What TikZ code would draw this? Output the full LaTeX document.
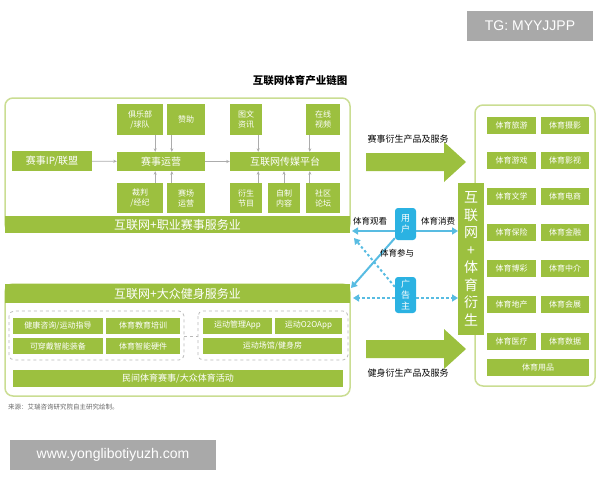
\documentclass[tikz,border=0pt]{standalone}
\usepackage{fontspec}
\setmainfont{Noto Sans CJK SC}
\newfontfamily\wmfont{Liberation Sans}
\usetikzlibrary{arrows.meta}

\definecolor{grn}{HTML}{9CC03F}
\definecolor{lgrn}{HTML}{CADD92}
\definecolor{cyn}{HTML}{2BB2E2}
\definecolor{lcyn}{HTML}{58BCE2}
\definecolor{wmgray}{HTML}{A9A9A9}

\tikzset{
  gbox/.style={fill=grn, text=white, inner sep=0pt, align=center,
    font=\fontsize{8}{10}\selectfont},
  gbig/.style={gbox, font=\fontsize{10}{12}\selectfont},
  gbar/.style={gbox, font=\fontsize{12}{14}\selectfont},
  cbox/.style={fill=cyn, text=white, inner sep=0pt, align=center,
    rounded corners=3pt, font=\fontsize{9}{11}\selectfont},
  frame/.style={draw=lgrn, line width=1.5pt, rounded corners=8pt},
  group/.style={draw=gray!55, dashed, line width=0.8pt, rounded corners=5pt},
  sarr/.style={-{Stealth[length=3.5pt,width=3pt]}, draw=gray!65, line width=0.7pt},
  uarr/.style={-{Triangle[length=6pt,width=7pt]}, draw=lcyn, line width=2pt},
  darr/.style={uarr, dash pattern=on 2.5pt off 2.5pt},
  lab/.style={inner sep=0pt, font=\fontsize{8.5}{10}\selectfont},
  wm/.style={fill=wmgray, text=white, inner sep=0pt, font=\wmfont\fontsize{14}{16}\selectfont},
}

\begin{document}
\begin{tikzpicture}[x=1pt, y=-1pt]
  \useasboundingbox (0,0) rectangle (600,480);

  \node[font=\bfseries\fontsize{10.5}{12}\selectfont] (title) at (300,80) {互联网体育产业链图};

  % professional events
  \draw[frame] (5,98) rectangle (350,232);
  \node[gbig, minimum width=80, minimum height=20] (ip) at (52,161) {赛事IP/联盟};
  \node[gbig, minimum width=88, minimum height=19] (ops) at (161,161.5) {赛事运营};
  \node[gbox, minimum width=46, minimum height=31] (club) at (140,119.5) {俱乐部\\/球队};
  \node[gbox, minimum width=38, minimum height=31] (spon) at (186,119.5) {赞助};
  \node[gbox, minimum width=46, minimum height=30] (ref) at (140,198) {裁判\\/经纪};
  \node[gbox, minimum width=38, minimum height=30] (venue) at (186,198) {赛场\\运营};
  \node[gbig, minimum width=110, minimum height=19] (plat) at (285,161.5) {互联网传媒平台};
  \node[gbox, minimum width=32, minimum height=31] (news) at (246,119.5) {图文\\资讯};
  \node[gbox, minimum width=34, minimum height=31] (video) at (323,119.5) {在线\\视频};
  \node[gbox, minimum width=32, minimum height=30] (deriv) at (246,198) {衍生\\节目};
  \node[gbox, minimum width=32, minimum height=30] (own) at (284,198) {自制\\内容};
  \node[gbox, minimum width=34, minimum height=30] (forum) at (323,198) {社区\\论坛};
  \node[gbar, minimum width=345, minimum height=17] (pro) at (177.5,224.5) {互联网+职业赛事服务业};

  \draw[sarr] (ip) -- (ops);
  \draw[sarr] (ops) -- (plat);
  \draw[sarr] ([xshift=-8pt]club.south east) -- ([xshift=-8pt]club.south east |- ops.north);
  \draw[sarr] ([xshift=5pt]spon.south west) -- ([xshift=5pt]spon.south west |- ops.north);
  \draw[sarr] ([xshift=-8pt]ref.north east) -- ([xshift=-8pt]ref.north east |- ops.south);
  \draw[sarr] ([xshift=5pt]venue.north west) -- ([xshift=5pt]venue.north west |- ops.south);
  \draw[sarr] ([xshift=-4pt]news.south east) -- ([xshift=-4pt]news.south east |- plat.north);
  \draw[sarr] ([xshift=4pt]video.south west) -- ([xshift=4pt]video.south west |- plat.north);
  \draw[sarr] ([xshift=-4pt]deriv.north east) -- ([xshift=-4pt]deriv.north east |- plat.south);
  \draw[sarr] (own) -- (own |- plat.south);
  \draw[sarr] ([xshift=4pt]forum.north west) -- ([xshift=4pt]forum.north west |- plat.south);

  % mass fitness
  \draw[frame] (5,284) rectangle (350,396);
  \node[gbar, minimum width=345, minimum height=19] (fit) at (177.5,293.5) {互联网+大众健身服务业};
  \draw[group] (9,311) rectangle (184,360);
  \draw[group] (198,311) rectangle (348,360);
  \node[gbox, minimum width=90, minimum height=16] (advice) at (58,325.5) {健康咨询/运动指导};
  \node[gbox, minimum width=74, minimum height=16] (train) at (143,325.5) {体育教育培训};
  \node[gbox, minimum width=90, minimum height=16] (wear) at (58,346) {可穿戴智能装备};
  \node[gbox, minimum width=74, minimum height=16] (hard) at (143,346) {体育智能硬件};
  \node[gbox, minimum width=69, minimum height=16] (app) at (237.5,325.5) {运动管理App};
  \node[gbox, minimum width=67, minimum height=16] (o2o) at (308.5,325.5) {运动O2OApp};
  \node[gbox, minimum width=139, minimum height=16] (gym) at (272.5,346) {运动场馆/健身房};
  \node[gbox, minimum width=330, minimum height=17, font=\fontsize{9}{11}\selectfont] (folk) at (178,378.5) {民间体育赛事/大众体育活动};
  \coordinate (g1) at (184,336);
  \coordinate (g2) at (198,336);
  \draw[gray!55, dashed, line width=0.8pt] (g1) -- (g2);

  % users and advertisers
  \node[cbox, minimum width=21, minimum height=32] (user) at (405.5,224) {用\\户};
  \node[cbox, minimum width=21, minimum height=36] (adv) at (405.5,295) {广\\告\\主};
  \coordinate (pl) at (352,231);
  \coordinate (pr) at (458,231);
  \coordinate (fl) at (351,288);
  \coordinate (al) at (353,298);
  \coordinate (ar) at (458,298);
  \coordinate (tl) at (354,238);
  \draw[uarr] (user.west |- pl) -- (pl);
  \draw[uarr] (user.east |- pr) -- (pr);
  \draw[uarr] ([yshift=2pt]user.south west) -- (fl);
  \draw[darr] (adv.west |- al) -- (al);
  \draw[darr] (adv.east |- ar) -- (ar);
  \draw[darr] ([yshift=-10pt]adv.north west) -- (tl);
  \node[lab] (watch) at (370,221) {体育观看};
  \node[lab] (buy) at (438,221) {体育消费};
  \node[lab] (join) at (397,253) {体育参与};

  % derived products
  \fill[grn] (366,153) -- (444,153) -- (444,142) -- (466,162) -- (444,182) -- (444,171) -- (366,171) -- cycle;
  \node[lab, font=\fontsize{9}{10}\selectfont] (evt) at (408,139) {赛事衍生产品及服务};
  \fill[grn] (366,340) -- (444,340) -- (444,329) -- (466,349) -- (444,369) -- (444,358) -- (366,358) -- cycle;
  \node[lab, font=\fontsize{9}{10}\selectfont] (fitd) at (408,373) {健身衍生产品及服务};

  \draw[frame] (475,105) rectangle (595,386);
  \node[gbox, minimum width=26, minimum height=152, font=\fontsize{14}{17.5}\selectfont] (plus) at (471,259) {互\\联\\网\\+\\体\\育\\衍\\生};
  \foreach \y/\a/\b in {125/体育旅游/体育摄影, 160/体育游戏/体育影视, 196/体育文学/体育电商,
      232/体育保险/体育金融, 268/体育博彩/体育中介, 304/体育地产/体育会展, 341/体育医疗/体育数据} {
    \node[gbox, minimum width=49, minimum height=17] (l\y) at (511.5,\y) {\a};
    \node[gbox, minimum width=48, minimum height=17] (r\y) at (565,\y) {\b};
  }
  \node[gbox, minimum width=102, minimum height=17] (goods) at (538,367) {体育用品};

  \node[anchor=west, inner sep=0pt, text=gray!80!black, font=\fontsize{6.5}{8}\selectfont] (src) at (8,407) {来源：艾瑞咨询研究院自主研究绘制。};

  % marks
  \node[wm, minimum width=126, minimum height=30] (tg) at (530,26) {TG: MYYJJPP};
  \node[wm, minimum width=206, minimum height=30] (www) at (113,455) {www.yonglibotiyuzh.com};
\end{tikzpicture}
\end{document}
